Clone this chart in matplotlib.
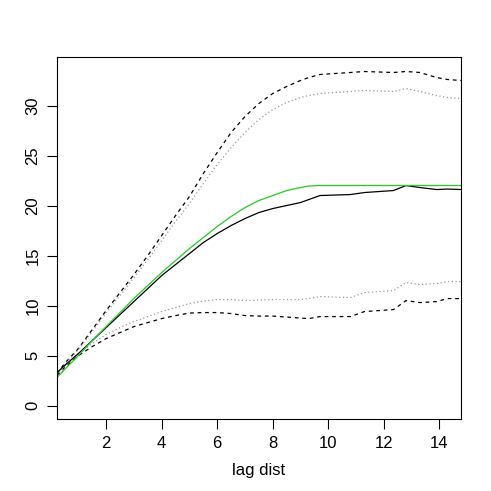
import matplotlib
matplotlib.use("Agg")
from matplotlib import pyplot as plt

# lag distances where the curves were read
lag = [0.23, 0.5, 1.0, 1.5, 2.0, 2.5, 3.0, 3.5, 4.0, 4.5, 5.0, 5.5, 6.0, 6.5,
       7.0, 7.5, 8.0, 8.5, 9.0, 9.3, 9.7, 10.8, 11.3, 12.35, 12.8, 13.3, 13.9,
       14.3, 14.78]

# empirical variogram
gamma = [3.3, 4.0, 5.2, 6.5, 7.8, 9.1, 10.4, 11.7, 13.0, 14.1, 15.2, 16.3,
         17.2, 18.0, 18.7, 19.3, 19.7, 20.0, 20.3, 20.6, 21.0, 21.1, 21.3,
         21.5, 22.0, 21.8, 21.6, 21.65, 21.6]

# fitted model
model = [2.8, 3.6, 5.0, 6.5, 7.9, 9.3, 10.7, 12.0, 13.3, 14.5, 15.7, 16.8,
         17.9, 18.9, 19.8, 20.5, 21.0, 21.5, 21.8, 21.95, 22.0, 22.0, 22.0,
         22.0, 22.0, 22.0, 22.0, 22.0, 22.0]

# envelopes
upper_dash = [3.2, 4.2, 5.7, 7.6, 9.5, 11.3, 13.1, 15.0, 17.0, 19.0, 20.9,
              23.2, 25.3, 27.3, 28.9, 30.2, 31.2, 31.9, 32.5, 32.8, 33.1, 33.3,
              33.4, 33.3, 33.4, 33.3, 32.8, 32.6, 32.5]
upper_dot = [3.1, 4.1, 5.6, 7.4, 9.3, 11.0, 12.8, 14.6, 16.5, 18.4, 20.2, 22.2,
             24.1, 25.8, 27.3, 28.6, 29.6, 30.3, 30.8, 31.0, 31.2, 31.4, 31.5,
             31.4, 31.7, 31.4, 31.0, 30.8, 30.7]
lower_dot = [3.0, 3.9, 5.2, 6.2, 7.1, 7.8, 8.4, 8.9, 9.4, 9.8, 10.2, 10.45,
             10.6, 10.6, 10.5, 10.55, 10.6, 10.6, 10.6, 10.7, 10.9, 10.8, 11.3,
             11.5, 12.3, 12.1, 12.2, 12.4, 12.4]
lower_dash = [3.0, 3.8, 5.0, 5.9, 6.7, 7.3, 7.9, 8.3, 8.7, 9.0, 9.25, 9.3, 9.3,
              9.2, 9.0, 8.95, 8.95, 8.85, 8.75, 8.7, 8.9, 8.9, 9.4, 9.6, 10.5,
              10.3, 10.4, 10.7, 10.7]

plt.rcParams['font.family'] = ['Liberation Sans', 'DejaVu Sans']

fig = plt.figure(figsize=(4.91, 4.91), dpi=100)
ax = fig.add_axes([57 / 491, 72 / 491, 404 / 491, 362 / 491])

ax.plot(lag, upper_dash, color='black', lw=0.9, ls=(0, (3, 3)))
ax.plot(lag, lower_dash, color='black', lw=0.9, ls=(0, (3, 3)))
ax.plot(lag, upper_dot, color='#999999', lw=0.9, ls=(0, (1, 2)))
ax.plot(lag, lower_dot, color='#999999', lw=0.9, ls=(0, (1, 2)))
ax.plot(lag, gamma, color='black', lw=0.9)
ax.plot(lag, model, color='#22cc22', lw=0.9)

ax.set_xlim(0.23, 14.78)
ax.set_ylim(-1.34, 34.85)
ax.set_xticks([2, 4, 6, 8, 10, 12, 14])
ax.set_yticks([0, 5, 10, 15, 20, 25, 30])
ax.tick_params(direction='out', length=7, width=0.8, labelsize=12, pad=5)
for lbl in ax.get_yticklabels():
    lbl.set_rotation(90)
    lbl.set_va('center')
for s in ax.spines.values():
    s.set_linewidth(0.8)
ax.set_xlabel('lag dist', fontsize=12, labelpad=9)

fig.savefig('out.png', dpi=100)
